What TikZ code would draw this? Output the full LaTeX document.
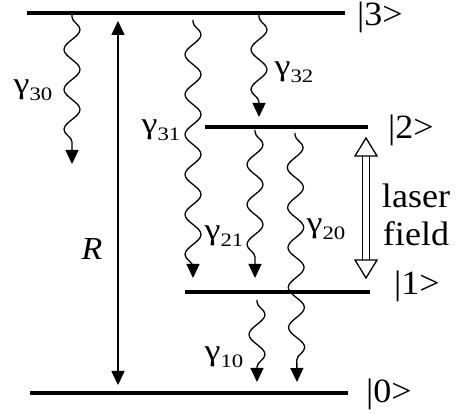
\documentclass[tikz,border=0pt]{standalone}
\usepackage{fontspec}
\setmainfont{Liberation Serif}
\usetikzlibrary{decorations.pathmorphing,arrows.meta,calc}
\newcommand{\wide}[1]{\scalebox{1.2}[1]{#1}}
\newcommand{\wider}[1]{\scalebox{1.06}[1]{#1}}
\newcommand{\gsub}[1]{\wide{γ\raisebox{-0.5ex}{\fontsize{19}{19}\selectfont #1}}}
\begin{document}
\begin{tikzpicture}[x=1pt,y=-1pt,
  lvl/.style={line width=3.5pt},
  wavy/.style={line width=1.3pt, decorate,
    decoration={snake, amplitude=8pt, segment length=40pt, pre length=2pt, post length=9pt},
    -{Triangle[width=13pt,length=14pt]}},
  txt/.style={inner sep=0pt, font=\fontsize{34}{38}\selectfont},
  glbl/.style={inner sep=0pt, font=\fontsize{30}{30}\selectfont}]
\useasboundingbox (0,0) rectangle (461,414);
% levels
\coordinate (l3a) at (27,13);  \coordinate (l3b) at (345,13);
\coordinate (l2a) at (205,127); \coordinate (l2b) at (368,127);
\coordinate (l1a) at (185,292); \coordinate (l1b) at (370,292);
\coordinate (l0a) at (30,393);  \coordinate (l0b) at (348,393);
\draw[lvl] (l3a) -- (l3b);
\draw[lvl] (l2a) -- (l2b);
\draw[lvl] (l1a) -- (l1b);
\draw[lvl] (l0a) -- (l0b);
\node[txt] (k3) at (380,17) {\wider{|3>}};
\node[txt] (k2) at (411,130) {\wider{|2>}};
\node[txt] (k1) at (417,286) {\wider{|1>}};
\node[txt] (k0) at (389,394) {\wider{|0>}};
% R arrow
\coordinate (rt) at (118,21);
\coordinate (rb) at (118,385);
\draw[line width=1.6pt, {Triangle[width=13pt,length=14pt]}-{Triangle[width=13pt,length=14pt]}] (rb) -- (rt);
\node[inner sep=0pt, font=\fontsize{32}{32}\selectfont\itshape] (R) at (92,249) {\wider{R}};
% wavy decays
\coordinate (w30a) at (72,15);  \coordinate (w30b) at (72,164);
\coordinate (w31a) at (193,20); \coordinate (w31b) at (193,278);
\coordinate (w32a) at (259,15); \coordinate (w32b) at (259,117);
\coordinate (w21a) at (255,130); \coordinate (w21b) at (255,278);
\coordinate (w20a) at (295,133); \coordinate (w20b) at (297,382);
\coordinate (w10a) at (257,300); \coordinate (w10b) at (257,382);
\draw[wavy] (w30a) -- (w30b);
\draw[wavy] (w31a) -- (w31b);
\draw[wavy] (w32a) -- (w32b);
\draw[wavy] (w21a) -- (w21b);
\draw[wavy] (w20a) -- (w20b);
\draw[wavy] (w10a) -- (w10b);
\node[glbl] (g30) at (33,90) {\gsub{30}};
\node[glbl] (g31) at (161,130) {\gsub{31}};
\node[glbl] (g32) at (294,72) {\gsub{32}};
\node[glbl] (g21) at (224,236) {\gsub{21}};
\node[glbl] (g20) at (326,229) {\gsub{20}};
\node[glbl] (g10) at (224,357) {\gsub{10}};
% laser field open double arrow
\coordinate (la) at (366,138);
\coordinate (lb) at (366,278);
\draw[line width=1.3pt, line join=miter]
  (la) -- ($(la)+(-11,18)$) -- ($(la)+(11,18)$) -- cycle
  (lb) -- ($(lb)+(-11,-18)$) -- ($(lb)+(11,-18)$) -- cycle;
\draw[line width=1.3pt]
  ($(la)+(-3.5,18)$) -- ($(lb)+(-3.5,-18)$)
  ($(la)+(3.5,18)$) -- ($(lb)+(3.5,-18)$);
\node[txt] (laser) at (416,219) {\wider{\begin{tabular}{@{}c@{}}laser\\field\end{tabular}}};
\end{tikzpicture}
\end{document}
